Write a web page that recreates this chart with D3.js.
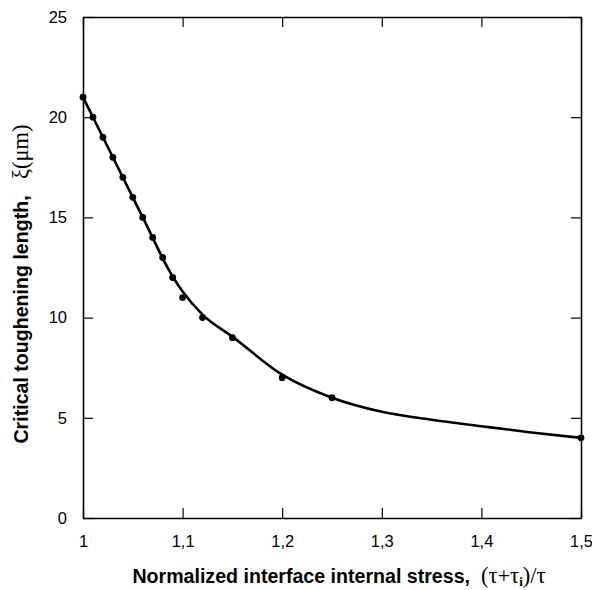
<!DOCTYPE html>
<html><head><meta charset="utf-8">
<script src="https://cdn.jsdelivr.net/npm/d3@7"></script>
<style>body{margin:0;background:#fff}svg{display:block}text{white-space:pre}</style>
</head><body>
<svg id="c" width="592" height="590"></svg>
<script>
// measured points
const pointX = [1.00,1.01,1.02,1.03,1.04,1.05,1.06,1.07,1.08,1.09,1.10,1.12,1.15,1.20,1.25,1.50];
const pointY = [21,20,19,18,17,16,15,14,13,12,11,10,9,7,6,4];
// fitted curve
const curveX = [1.00,1.03,1.06,1.09,1.10,1.12,1.15,1.20,1.25,1.30,1.35,1.40,1.45,1.50];
const curveY = [21,18,15,12.05,11.3,10.15,9.05,7.15,6.0,5.3,4.9,4.58,4.27,4.0];
const xTicks = [1,1.1,1.2,1.3,1.4,1.5];
const xTickLabels = ["1","1,1","1,2","1,3","1,4","1,5"];
const yTicks = [0,5,10,15,20,25];

const svg = d3.select("#c");
const L=83,R=581,T=17,B=518;
const x = d3.scaleLinear().domain([1,1.5]).range([L,R]);
const y = d3.scaleLinear().domain([0,25]).range([B,T]);
const tl = 10;

const gB = svg.append("g").attr("transform",`translate(0,${B})`)
  .call(d3.axisBottom(x).tickValues(xTicks).tickSizeInner(-tl).tickSizeOuter(0).tickFormat((d,i)=>xTickLabels[i]).tickPadding(17));
const gT = svg.append("g").attr("transform",`translate(0,${T})`)
  .call(d3.axisTop(x).tickValues(xTicks).tickSizeInner(-tl).tickSizeOuter(0).tickFormat(""));
const gL = svg.append("g").attr("transform",`translate(${L},0)`)
  .call(d3.axisLeft(y).tickValues(yTicks).tickSizeInner(-tl).tickSizeOuter(0).tickPadding(16));
const gR = svg.append("g").attr("transform",`translate(${R},0)`)
  .call(d3.axisRight(y).tickValues(yTicks).tickSizeInner(-tl).tickSizeOuter(0).tickFormat(""));
[gB,gT,gL,gR].forEach(g=>{
  g.selectAll("path.domain").attr("stroke","#000").attr("stroke-width",1.6);
  g.selectAll(".tick line").attr("stroke","#000").attr("stroke-width",1.2);
  g.selectAll("text").attr("font-family","Liberation Sans, Arial, sans-serif").attr("font-size",16.5).attr("fill","#000");
});

const line = d3.line().x(d=>x(d[0])).y(d=>y(d[1])).curve(d3.curveMonotoneX);
svg.append("path").datum(curveX.map((v,i)=>[v,curveY[i]]))
  .attr("d",line).attr("fill","none").attr("stroke","#000").attr("stroke-width",2.6);

svg.append("g").selectAll("circle").data(pointX.map((v,i)=>[v,pointY[i]])).join("circle")
  .attr("cx",d=>x(d[0])).attr("cy",d=>y(d[1])).attr("r",3.4).attr("fill","#000");

const sf = "Liberation Serif, Times New Roman, serif";
const xt = svg.append("text").attr("x",339).attr("y",583).attr("text-anchor","middle")
  .attr("font-family","Liberation Sans, Arial, sans-serif").attr("font-weight","bold").attr("font-size",19.6);
xt.append("tspan").text("Normalized interface internal stress,  ");
xt.append("tspan").attr("font-family",sf).attr("font-weight","normal").attr("font-size",22.5).text("(τ+τ");
xt.append("tspan").attr("font-family",sf).attr("font-weight","bold").attr("font-size",13).attr("dy",3).text("i");
xt.append("tspan").attr("font-family",sf).attr("font-weight","normal").attr("font-size",22.5).attr("dy",-3).text(")/τ");

const yt = svg.append("text").attr("transform",`translate(28,284) rotate(-90)`).attr("text-anchor","middle")
  .attr("font-family","Liberation Sans, Arial, sans-serif").attr("font-weight","bold").attr("font-size",19.6);
yt.append("tspan").text("Critical toughening length,   ");
yt.append("tspan").attr("font-family",sf).attr("font-weight","normal").attr("font-size",22.5).text("ξ(μm)");
</script>
</body></html>
